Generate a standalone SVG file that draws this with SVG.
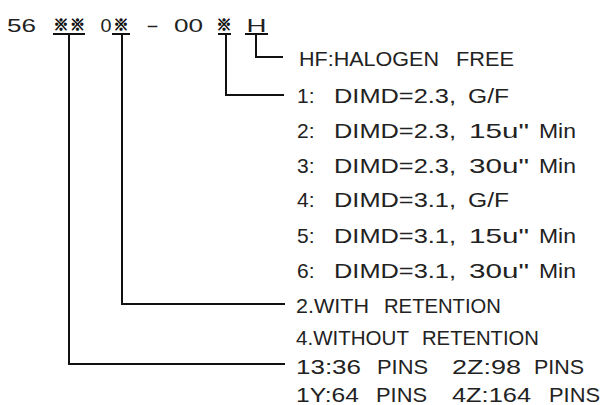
<svg xmlns="http://www.w3.org/2000/svg" width="603" height="405" viewBox="0 0 603 405">
<style>
.t{font-family:"Liberation Sans",Arial,sans-serif;font-size:21px;fill:#222}
.h{font-family:"Liberation Sans",Arial,sans-serif;font-size:19px;fill:#222}
.s{font-family:"Noto Sans CJK SC","Noto Sans CJK JP",sans-serif;font-size:15px;font-weight:700;fill:#111;stroke:#111;stroke-width:0.8;text-anchor:middle}
.c{stroke:#111;stroke-width:2;fill:none}
</style>
<rect width="603" height="405" fill="#fff"/>
<g id="code">
<text class="h" x="7" y="31.5" textLength="29" lengthAdjust="spacingAndGlyphs">56</text>
<text class="s" x="61" y="30">※</text>
<text class="s" x="77.5" y="30">※</text>
<text class="h" x="100.5" y="31.5" textLength="11" lengthAdjust="spacingAndGlyphs">0</text>
<text class="s" x="121" y="30">※</text>
<text class="h" x="146" y="31.5" textLength="13" lengthAdjust="spacingAndGlyphs">-</text>
<text class="h" x="174" y="31.5" textLength="29" lengthAdjust="spacingAndGlyphs">00</text>
<text class="s" x="224" y="30">※</text>
<text class="h" x="246.5" y="31.5" textLength="20" lengthAdjust="spacingAndGlyphs">H</text>
</g>
<g id="connectors">
<path class="c" d="M53 34H85M112 34H130M218 34H231M245 34H268"/>
<path class="c" d="M69 34V364H285"/>
<path class="c" d="M122 34V304H285"/>
<path class="c" d="M226 34V95H284"/>
<path class="c" d="M256 34V57H283"/>
</g>
<g id="opt-hf">
<text class="t" x="299" y="66" textLength="140" lengthAdjust="spacingAndGlyphs">HF:HALOGEN</text>
<text class="t" x="456" y="66" textLength="58" lengthAdjust="spacingAndGlyphs">FREE</text>
</g>
<g id="opt-plating">
<text class="t" x="297" y="103">1:</text>
<text class="t" x="334" y="103" textLength="122" lengthAdjust="spacingAndGlyphs">DIMD=2.3,</text>
<text class="t" x="468" y="103" textLength="41" lengthAdjust="spacingAndGlyphs">G/F</text>
<text class="t" x="297" y="138">2:</text>
<text class="t" x="334" y="138" textLength="122" lengthAdjust="spacingAndGlyphs">DIMD=2.3,</text>
<text class="t" x="469" y="138" textLength="60" lengthAdjust="spacingAndGlyphs">15u"</text>
<text class="t" x="539" y="138" textLength="37" lengthAdjust="spacingAndGlyphs">Min</text>
<text class="t" x="297" y="173">3:</text>
<text class="t" x="334" y="173" textLength="122" lengthAdjust="spacingAndGlyphs">DIMD=2.3,</text>
<text class="t" x="469" y="173" textLength="60" lengthAdjust="spacingAndGlyphs">30u"</text>
<text class="t" x="539" y="173" textLength="37" lengthAdjust="spacingAndGlyphs">Min</text>
<text class="t" x="297" y="207">4:</text>
<text class="t" x="334" y="207" textLength="122" lengthAdjust="spacingAndGlyphs">DIMD=3.1,</text>
<text class="t" x="468" y="207" textLength="41" lengthAdjust="spacingAndGlyphs">G/F</text>
<text class="t" x="297" y="243">5:</text>
<text class="t" x="334" y="243" textLength="122" lengthAdjust="spacingAndGlyphs">DIMD=3.1,</text>
<text class="t" x="469" y="243" textLength="60" lengthAdjust="spacingAndGlyphs">15u"</text>
<text class="t" x="539" y="243" textLength="37" lengthAdjust="spacingAndGlyphs">Min</text>
<text class="t" x="297" y="278">6:</text>
<text class="t" x="334" y="278" textLength="122" lengthAdjust="spacingAndGlyphs">DIMD=3.1,</text>
<text class="t" x="469" y="278" textLength="60" lengthAdjust="spacingAndGlyphs">30u"</text>
<text class="t" x="539" y="278" textLength="37" lengthAdjust="spacingAndGlyphs">Min</text>
</g>
<g id="opt-retention">
<text class="t" x="296" y="313" textLength="73" lengthAdjust="spacingAndGlyphs">2.WITH</text>
<text class="t" x="384" y="313" textLength="117" lengthAdjust="spacingAndGlyphs">RETENTION</text>
<text class="t" x="296" y="345" textLength="113" lengthAdjust="spacingAndGlyphs">4.WITHOUT</text>
<text class="t" x="422" y="345" textLength="117" lengthAdjust="spacingAndGlyphs">RETENTION</text>
</g>
<g id="opt-pins">
<text class="t" x="296" y="374" textLength="65" lengthAdjust="spacingAndGlyphs">13:36</text>
<text class="t" x="377" y="374" textLength="51" lengthAdjust="spacingAndGlyphs">PINS</text>
<text class="t" x="452" y="374" textLength="69" lengthAdjust="spacingAndGlyphs">2Z:98</text>
<text class="t" x="534" y="374" textLength="50" lengthAdjust="spacingAndGlyphs">PINS</text>
<text class="t" x="296" y="402" textLength="63" lengthAdjust="spacingAndGlyphs">1Y:64</text>
<text class="t" x="376" y="402" textLength="51" lengthAdjust="spacingAndGlyphs">PINS</text>
<text class="t" x="452" y="402" textLength="79" lengthAdjust="spacingAndGlyphs">4Z:164</text>
<text class="t" x="549" y="402" textLength="51" lengthAdjust="spacingAndGlyphs">PINS</text>
</g>
</svg>
